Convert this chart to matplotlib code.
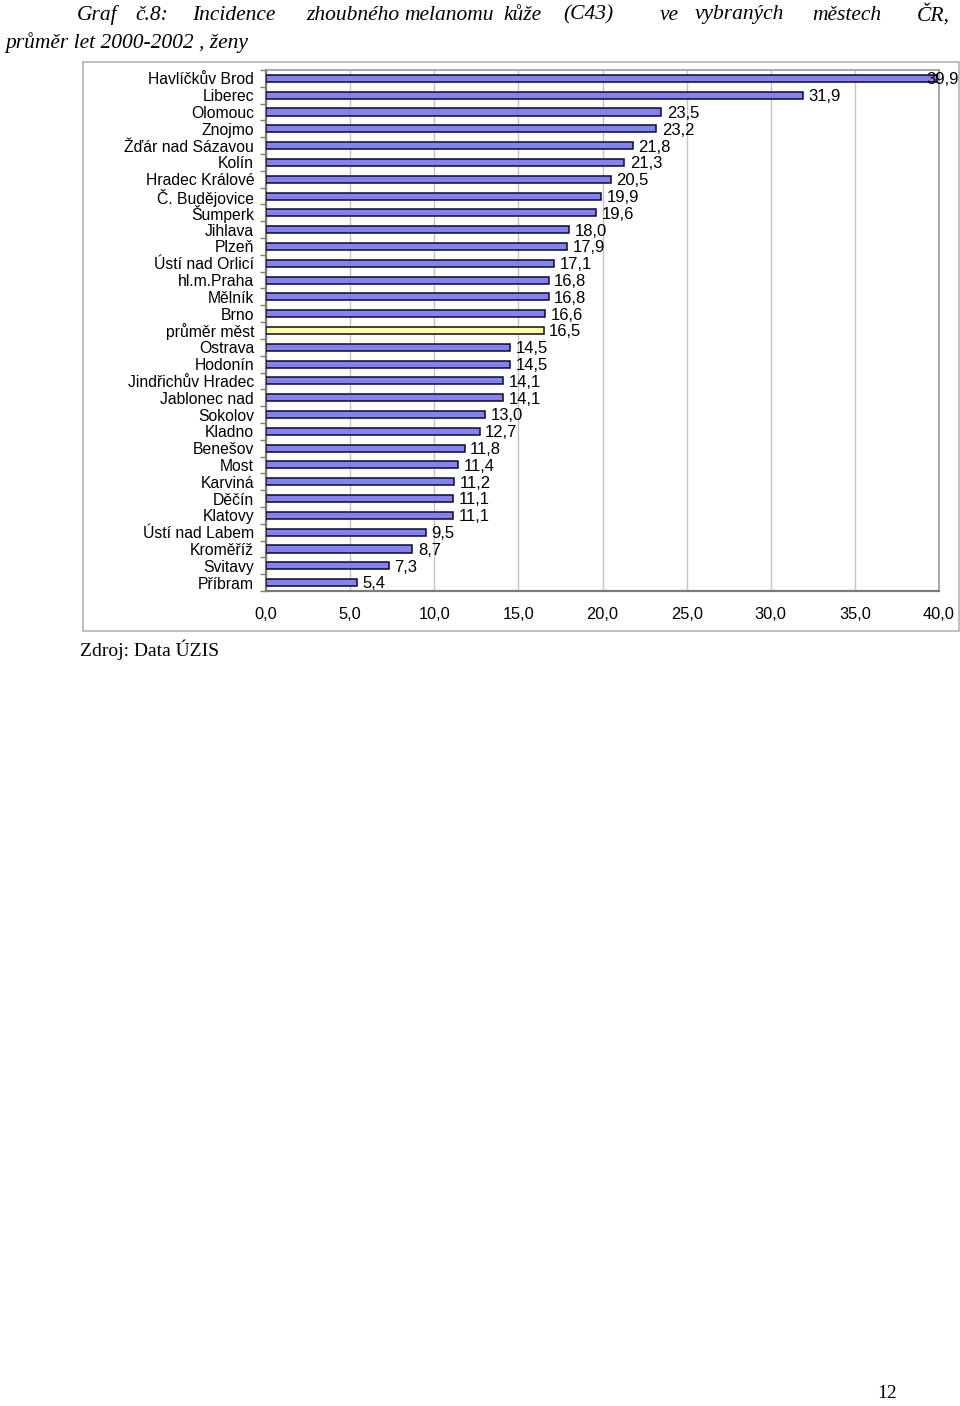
import matplotlib
matplotlib.use("Agg")
import matplotlib.pyplot as plt
from matplotlib.patches import Rectangle
from matplotlib.ticker import FixedLocator

cities = ["Havlíčkův Brod", "Liberec", "Olomouc", "Znojmo", "Žďár nad Sázavou", "Kolín",
          "Hradec Králové", "Č. Budějovice", "Šumperk", "Jihlava", "Plzeň", "Ústí nad Orlicí",
          "hl.m.Praha", "Mělník", "Brno", "průměr měst", "Ostrava", "Hodonín",
          "Jindřichův Hradec", "Jablonec nad", "Sokolov", "Kladno", "Benešov", "Most",
          "Karviná", "Děčín", "Klatovy", "Ústí nad Labem", "Kroměříž", "Svitavy", "Příbram"]
values = [39.9, 31.9, 23.5, 23.2, 21.8, 21.3, 20.5, 19.9, 19.6, 18.0, 17.9, 17.1,
          16.8, 16.8, 16.6, 16.5, 14.5, 14.5, 14.1, 14.1, 13.0, 12.7, 11.8, 11.4,
          11.2, 11.1, 11.1, 9.5, 8.7, 7.3, 5.4]
highlight = "průměr měst"
xticks = [0, 5, 10, 15, 20, 25, 30, 35, 40]
title_words = ["Graf", "č.8:", "Incidence", "zhoubného", "melanomu", "kůže", "(C43)",
               "ve", "vybraných", "městech", "ČR,"]
title_line2 = "průměr let 2000-2002 , ženy"
source = "Zdroj: Data ÚZIS"
page_no = "12"

W, H = 960, 1406
fig = plt.figure(figsize=(W / 100, H / 100), dpi=100)
fig.patch.set_facecolor("white")

def fx(px):
    return px / W

def fy(py):
    return 1 - py / H

# outer chart border
fig.patches.append(Rectangle((fx(83), fy(631)), fx(959) - fx(83), fy(62) - fy(631),
                             transform=fig.transFigure, fill=False, edgecolor="#b4b4b4",
                             linewidth=1.2, zorder=0))

left, right, top, bottom = 266, 939, 70, 591
ax = fig.add_axes([fx(left), fy(bottom), fx(right) - fx(left), fy(top) - fy(bottom)])

n = len(cities)
ypos = list(range(n))
colors = ["#ffff99" if c == highlight else "#8282f2" for c in cities]
ax.barh(ypos, values, height=0.42, color=colors, edgecolor="#0a0a28", linewidth=1.1, zorder=3)
ax.set_ylim(n - 0.5, -0.5)
ax.set_xlim(0, 40)

sans = ["Liberation Sans", "DejaVu Sans"]
val_font = dict(family=sans, size=12)
for y, v in zip(ypos, values):
    txt = f"{v:.1f}".replace(".", ",")
    if v > 38:
        # label would run past the chart edge: pulled back over the bar end
        ax.annotate(txt, (1, y), xycoords=("axes fraction", "data"), xytext=(14, -1),
                    textcoords="offset points", ha="right", va="center", zorder=5,
                    annotation_clip=False, **val_font)
    else:
        ax.annotate(txt, (v, y), xytext=(4, -1), textcoords="offset points",
                    ha="left", va="center", zorder=5, annotation_clip=False, **val_font)

ax.set_yticks(ypos)
ax.set_yticklabels(cities, family=sans, size=11.3)
ax.yaxis.set_minor_locator(FixedLocator([i - 0.5 for i in range(n + 1)]))
ax.tick_params(axis="y", which="major", length=0, pad=8.5)
ax.tick_params(axis="y", which="minor", length=4, width=1, color="#808080", direction="out")

ax.set_xticks(xticks)
ax.set_xticklabels([f"{t:.1f}".replace(".", ",") for t in xticks], family=sans, size=11.8)
ax.tick_params(axis="x", which="major", length=0, pad=11.5)

ax.grid(axis="x", color="#c4c4c4", linewidth=1.0, zorder=0)
ax.set_axisbelow(True)
for s in ["left", "bottom"]:
    ax.spines[s].set_color("#7a7a7a")
    ax.spines[s].set_linewidth(1.6)
for s in ["top", "right"]:
    ax.spines[s].set_color("#9a9a9a")
    ax.spines[s].set_linewidth(1.2)

serif_i = dict(family=["Liberation Serif", "DejaVu Serif"], style="italic", size=15.5)
word_x = [77, 135, 192, 306, 404, 503, 563, 660, 695, 812, 917]
for wx, w in zip(word_x, title_words):
    fig.text(fx(wx), fy(15), w, ha="left", va="center", **serif_i)
fig.text(fx(5), fy(43), title_line2, ha="left", va="center", **serif_i)

serif = dict(family=["Liberation Serif", "DejaVu Serif"], size=14)
fig.text(fx(80), fy(650), source, ha="left", va="center", **serif)
fig.text(fx(877), fy(1393), page_no, ha="left", va="center", **serif)

fig.savefig("out.png", dpi=100, facecolor="white")
